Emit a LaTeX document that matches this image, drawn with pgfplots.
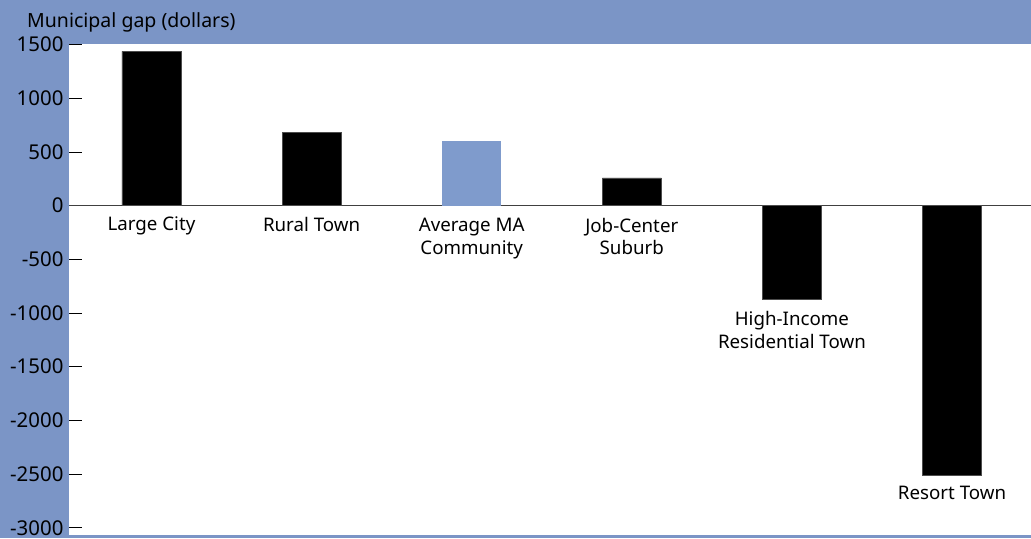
\documentclass[border=0pt]{standalone}
\usepackage{pgfplots}
\pgfplotsset{compat=1.18}
\usepackage{fontspec}
\setmainfont{Noto Sans}
\definecolor{bgblue}{HTML}{7B95C6}
\definecolor{barblue}{HTML}{7F9BCC}
\begin{document}
\begin{tikzpicture}
\fill[bgblue] (-69bp,-3bp) rectangle (962bp,535bp);
\node[anchor=west, font=\fontsize{19.6}{22}\selectfont, inner sep=0] at (-42bp,513bp) {Municipal gap (dollars)};
\begin{axis}[
  scale only axis, width=962bp, height=491bp,
  at={(0,0)}, anchor=south west,
  axis background/.style={fill=white},
  axis line style={draw=none},
  xmin=-0.515, xmax=5.49,
  ymin=-3065, ymax=1505,
  xtick=\empty,
  ytick={-3000,-2500,...,1500},
  ytick pos=left,
  tick align=inside,
  major tick length=13bp,
  tick style={black, line width=0.7pt},
  /pgf/number format/1000 sep={},
  /pgf/number format/assume math mode=true,
  yticklabel style={font=\fontsize{20.5}{22}\selectfont, anchor=east, xshift=-2bp},
  clip=false,
]
\draw[black!75, line width=1pt] (axis cs:-0.515,0) -- (axis cs:5.49,0);
\addplot[ybar, bar width=59bp, bar shift=0pt, fill=black, draw=black!70, line width=0.4pt]
  coordinates {(0,1435) (1,680) (3,258) (4,-875) (5,-2515)};
\addplot[ybar, bar width=59bp, bar shift=0pt, fill=barblue, draw=none]
  coordinates {(2,605)};
\begin{scope}[every node/.style={anchor=north, align=center, inner sep=0, font=\fontsize{18.8}{23}\selectfont}]
\node at ([yshift=-11bp]axis cs:0,0) {Large City};
\node at ([yshift=-11bp]axis cs:1,0) {Rural Town};
\node at ([yshift=-12bp]axis cs:2,0) {Average MA\\Community};
\node at ([yshift=-12bp]axis cs:3,0) {Job-Center\\Suburb};
\node at ([yshift=-12bp]axis cs:4,-875) {High-Income\\Residential Town};
\node at ([yshift=-10bp]axis cs:5,-2515) {Resort Town};
\end{scope}
\end{axis}
\end{tikzpicture}
\end{document}
